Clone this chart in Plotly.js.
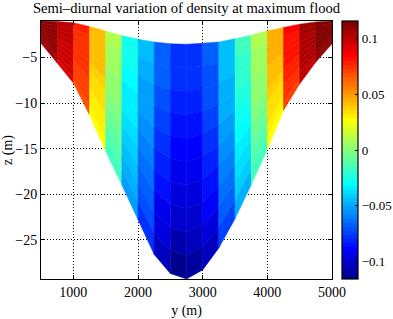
<!DOCTYPE html>
<html><head><meta charset="utf-8">
<script src="https://cdn.plot.ly/plotly-3.0.1.min.js"></script>
<style>html,body{margin:0;padding:0;background:#fff}#chart{width:393px;height:319px}</style>
</head><body><div id="chart"></div>
<script>
// Cross-channel node positions (m)
const yNodes = [500,750,1000,1250,1500,1750,2000,2250,2500,2750,3000,3250,3500,3750,4000,4250,4500,4750,5000];
// Upper and lower grid boundaries (m)
const zTop = [-1.0,-1.05,-1.2,-1.6,-2.1,-2.6,-3.0,-3.3,-3.5,-3.55,-3.45,-3.3,-2.95,-2.55,-2.1,-1.7,-1.35,-1.1,-1.0];
const zBottom = [-3.45,-5.6,-7.8,-11.3,-15.3,-19.0,-22.8,-26.6,-28.7,-29.3,-28.3,-25.9,-22.7,-19.0,-15.1,-10.8,-7.9,-5.5,-3.5];
// Sigma levels (surface to bed)
const sigmaLevels = [0,-0.1,-0.2,-0.3,-0.4,-0.5,-0.6,-0.7,-0.8,-0.9,-1.0];
// Density variation per layer (rows, surface to bed) and column (left to right)
const layer1  = [0.112,0.099,0.077,0.043,0.008,-0.027,-0.047,-0.066,-0.077,-0.077,-0.068,-0.044,-0.017,0.008,0.047,0.084,0.106,0.115];
const layer2  = [0.112,0.099,0.076,0.042,0.007,-0.029,-0.049,-0.068,-0.079,-0.079,-0.070,-0.046,-0.019,0.006,0.046,0.083,0.106,0.115];
const layer3  = [0.111,0.098,0.076,0.041,0.005,-0.030,-0.051,-0.071,-0.082,-0.082,-0.072,-0.048,-0.021,0.005,0.044,0.082,0.105,0.114];
const layer4  = [0.111,0.098,0.075,0.040,0.003,-0.033,-0.053,-0.074,-0.085,-0.084,-0.075,-0.050,-0.024,0.003,0.043,0.081,0.105,0.114];
const layer5  = [0.110,0.097,0.074,0.038,0.001,-0.035,-0.056,-0.077,-0.088,-0.088,-0.078,-0.053,-0.026,0.000,0.041,0.080,0.104,0.114];
const layer6  = [0.110,0.097,0.073,0.036,-0.002,-0.038,-0.059,-0.082,-0.092,-0.091,-0.082,-0.056,-0.030,-0.003,0.039,0.079,0.104,0.113];
const layer7  = [0.109,0.096,0.072,0.035,-0.005,-0.041,-0.063,-0.086,-0.096,-0.096,-0.086,-0.060,-0.033,-0.006,0.036,0.078,0.103,0.113];
const layer8  = [0.109,0.096,0.071,0.032,-0.008,-0.044,-0.067,-0.091,-0.101,-0.100,-0.090,-0.064,-0.038,-0.009,0.034,0.076,0.102,0.112];
const layer9  = [0.108,0.095,0.070,0.030,-0.011,-0.048,-0.071,-0.097,-0.106,-0.105,-0.096,-0.068,-0.042,-0.013,0.031,0.074,0.101,0.112];
const layer10 = [0.107,0.094,0.068,0.027,-0.016,-0.053,-0.077,-0.104,-0.113,-0.112,-0.102,-0.074,-0.048,-0.018,0.027,0.072,0.100,0.111];
const densityLayers = [layer1,layer2,layer3,layer4,layer5,layer6,layer7,layer8,layer9,layer10];

const cmin = -0.116, cmax = 0.116;
const xTicks = [1000,2000,3000,4000,5000];
const yTicks = [-25,-20,-15,-10,-5];
const cbTicks = [-0.1,-0.05,0,0.05,0.1];
const cbTickText = ['\u22120.1','\u22120.05','0','0.05','0.1'];

// MATLAB-style jet(64)
function u(j){ if(j<1||j>47) return 0; if(j<=16) return j/16; if(j<=31) return 1; return (48-j)/16; }
function jet(i){ // 1-based
  const r=Math.round(255*u(i-24)), g=Math.round(255*u(i-8)), b=Math.round(255*u(i+8));
  return 'rgb('+r+','+g+','+b+')';
}
const jetScale = [];
for(let k=0;k<64;k++){ const c=jet(k+1); jetScale.push([k/64,c]); jetScale.push([(k+1)/64,c]); }
function colorFor(v){
  let idx = Math.floor((v-cmin)/(cmax-cmin)*64)+1;
  if(idx<1) idx=1; if(idx>64) idx=64;
  return jet(idx);
}

const font = '"Liberation Serif", "Times New Roman", Times, serif';
const traces = [];
for(let k=0;k<sigmaLevels.length-1;k++){
  for(let i=0;i<yNodes.length-1;i++){
    const zA = j => zTop[j] + sigmaLevels[k]*(zTop[j]-zBottom[j]);
    const zB = j => zTop[j] + sigmaLevels[k+1]*(zTop[j]-zBottom[j]);
    const c = colorFor(densityLayers[k][i]);
    traces.push({
      type:'scatter', mode:'lines', fill:'toself', fillcolor:c,
      x:[yNodes[i],yNodes[i+1],yNodes[i+1],yNodes[i],yNodes[i]],
      y:[zA(i),zA(i+1),zB(i+1),zB(i),zA(i)],
      line:{color:c,width:0.5}, hoverinfo:'skip', showlegend:false
    });
  }
}
traces.push({
  type:'scatter', mode:'markers', x:[yNodes[0]], y:[zTop[0]], hoverinfo:'skip', showlegend:false,
  marker:{size:1, opacity:0, color:[cmin], cmin:cmin, cmax:cmax, colorscale:jetScale, showscale:true,
    colorbar:{x:1.035, xanchor:'left', xpad:0, y:0.5, yanchor:'middle', len:1, lenmode:'fraction', ypad:0,
      thickness:16, thicknessmode:'pixels', outlinewidth:1.2, outlinecolor:'#000', borderwidth:0,
      ticks:'inside', ticklen:3, tickcolor:'#000', tickvals:cbTicks, ticktext:cbTickText,
      tickfont:{family:font,size:13,color:'#000'}}}
});

const axisCommon = {
  ticks:'inside', ticklen:4, tickcolor:'#000', showline:true, linecolor:'#000', linewidth:1, mirror:'ticks',
  showgrid:true, gridcolor:'#000', gridwidth:1, griddash:'1px,2px', zeroline:false, automargin:false,
  tickfont:{family:font,size:14,color:'#000'}
};
const layout = {
  width:393, height:319, paper_bgcolor:'#fff', plot_bgcolor:'#fff',
  margin:{l:41,r:61,t:21,b:40,autoexpand:false},
  title:{text:'Semi\u2013diurnal variation of density at maximum flood', font:{family:font,size:14.6,color:'#000'},
    x:0.5, xref:'paper', y:1-3/319, yref:'container', yanchor:'top', automargin:false},
  xaxis:Object.assign({}, axisCommon, {range:[500,5000], tickvals:xTicks, ticktext:xTicks.map(String),
    title:{text:'y (m)', font:{family:font,size:14,color:'#000'}, standoff:8}}),
  yaxis:Object.assign({}, axisCommon, {range:[-29.3,-1.0], tickvals:yTicks, ticktext:yTicks.map(v=>'\u2212'+Math.abs(v)),
    title:{text:'z (m)', font:{family:font,size:14,color:'#000'}, standoff:6}}),
  showlegend:false
};
Plotly.newPlot('chart', traces, layout, {staticPlot:true, displayModeBar:false});
</script></body></html>
